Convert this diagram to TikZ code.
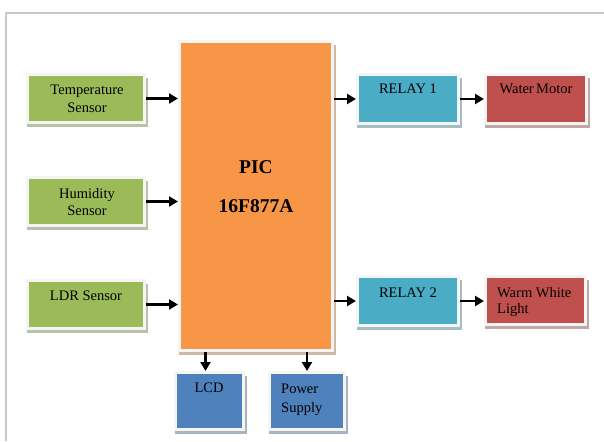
\documentclass[tikz,border=0pt]{standalone}
\usepackage{fontspec}
\setmainfont{Liberation Serif}
\newfontfamily\tnr{Liberation Serif}
\usetikzlibrary{arrows.meta}
\definecolor{cgreen}{HTML}{9BBB59}
\definecolor{corange}{HTML}{F79646}
\definecolor{cteal}{HTML}{4BACC6}
\definecolor{cred}{HTML}{C0504D}
\definecolor{cblue}{HTML}{4F81BD}
\definecolor{framecol}{HTML}{C8C8C8}
\tikzset{
  blk/.style={rectangle, inner sep=0pt, outer sep=1.5pt, draw=gray!8, line width=3pt},
  lbl/.style={inner sep=0pt, anchor=base, font=\tnr\fontsize{14.5}{17}\selectfont, text=black},
  lbll/.style={lbl, anchor=base west},
  big/.style={inner sep=0pt, anchor=base, font=\tnr\fontsize{19.5}{22}\selectfont\bfseries, text=black},
  arr/.style={draw=black, line width=2.6pt, -{Triangle[length=9pt,width=10pt]}}
}
\newcommand\blk[6]{%
  \fill[#6!40!gray!60] ({#2-2},{#3+2}) rectangle ({#4+4.5},{#5+5.5});
  \node[blk, fill=#6, minimum width={(#4-#2+3)*1pt}, minimum height={(#5-#3+3)*1pt}] (#1) at ({(#2+#4)/2},{(#3+#5)/2}) {};
}
\begin{document}
\begin{tikzpicture}[x=1pt,y=-1pt]
\useasboundingbox[fill=white] (0,0) rectangle (604,441);
\draw[framecol, line width=2pt] (6,441) -- (6,13) -- (604,13);

\blk{pic}{181}{43}{331}{349}{corange}
\blk{temp}{29}{76}{143}{121}{cgreen}
\blk{hum}{29}{179}{143}{224}{cgreen}
\blk{ldr}{29}{282}{143}{327}{cgreen}
\blk{relaya}{359}{76}{457}{122}{cteal}
\blk{motor}{487}{76}{585}{122}{cred}
\blk{relayb}{359}{278}{457}{324}{cteal}
\blk{light}{487}{278}{584}{323}{cred}
\blk{lcd}{177}{374}{242}{428}{cblue}
\blk{power}{271}{374}{343}{428}{cblue}

\node[big] (pict1) at (256,173) {PIC};
\node[big] (pict2) at (256,212) {16F877A};
\node[lbl] (tempt1) at (87,95) {Temperature};
\node[lbl] (tempt2) at (87,113) {Sensor};
\node[lbl] (humt1) at (87,198) {Humidity};
\node[lbl] (humt2) at (87,215) {Sensor};
\node[lbl] (ldrt) at (86,300) {LDR Sensor};
\node[lbl] (relayat) at (408,94) {RELAY 1};
\node[lbl] (motort) at (536,94) {Water\,Motor};
\node[lbl] (relaybt) at (408,297) {RELAY 2};
\node[lbll] (lightt1) at (497,297) {Warm White};
\node[lbll] (lightt2) at (497,313) {Light};
\node[lbl] (lcdt) at (209,392) {LCD};
\node[lbll] (powert1) at (281,393) {Power};
\node[lbll] (powert2) at (281,412) {Supply};

\draw[arr] (temp.east) -- (temp.east -| pic.west);
\draw[arr] (hum.east) -- (hum.east -| pic.west);
\draw[arr] (ldr.east) -- (ldr.east -| pic.west);
\draw[arr] (relaya.west -| pic.east) -- (relaya.west);
\draw[arr] (relayb.west -| pic.east) -- (relayb.west);
\draw[arr] (relaya.east) -- (relaya.east -| motor.west);
\draw[arr] (relayb.east) -- (relayb.east -| light.west);
\draw[arr] ([xshift=-4pt]lcd.north |- pic.south) -- ([xshift=-4pt]lcd.north);
\draw[arr] (power.north |- pic.south) -- (power.north);
\end{tikzpicture}
\end{document}
